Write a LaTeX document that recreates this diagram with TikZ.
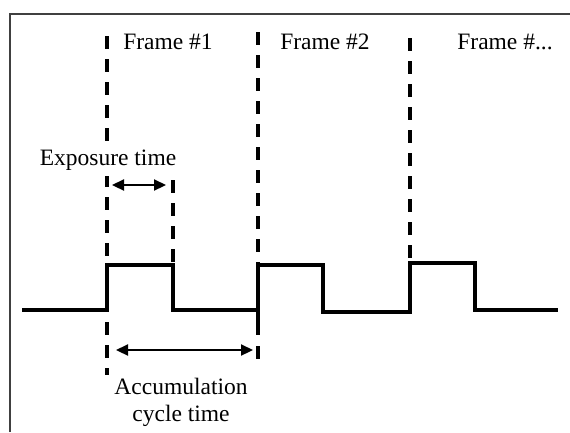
\documentclass[tikz,border=0pt]{standalone}
\usepackage{fontspec}
\setmainfont{Liberation Serif}
\usetikzlibrary{arrows.meta}
\begin{document}
\begin{tikzpicture}[x=1pt,y=-1pt,
  sig/.style={line width=3.2pt,line join=miter},
  guide/.style={line width=3.2pt,dash pattern=on 13pt off 10pt},
  dim/.style={line width=2.2pt,{Triangle[length=12pt,width=11pt]}-{Triangle[length=12pt,width=11pt]}},
  lbl/.style={font=\fontsize{23.5}{26}\selectfont,inner sep=0pt}]
\useasboundingbox (0,0) rectangle (570,432);
\draw[line width=1.6pt,draw=black!75] (10,432) -- (10,14) -- (570,14);
% signal
\coordinate (s0) at (22,310);
\coordinate (r1) at (107,310);
\coordinate (t1) at (107,265);
\coordinate (t1e) at (173,265);
\coordinate (f1) at (173,310);
\coordinate (r2) at (258,310);
\coordinate (t2) at (258,265);
\coordinate (t2e) at (323,265);
\coordinate (f2) at (323,312);
\coordinate (r3) at (410,312);
\coordinate (t3) at (410,263);
\coordinate (t3e) at (475,263);
\coordinate (f3) at (475,310);
\coordinate (s1) at (558,310);
\draw[sig] (s0) -- (r1) -- (t1) -- (t1e) -- (f1) -- (r2) -- (t2) -- (t2e) -- (f2) -- (r3) -- (t3) -- (t3e) -- (f3) -- (s1);
% guide lines
\coordinate (g1top) at (107,36);
\coordinate (g1bot) at (107,375);
\coordinate (g2top) at (258,32);
\coordinate (g2bot) at (258,368);
\coordinate (g3top) at (410,38);
\coordinate (gEtop) at (173,180);
\draw[guide] (g1top) -- (t1);
\draw[guide] (r1) ++(0,12) -- (g1bot);
\draw[guide] (g2top) -- (t2);
\draw[line width=3.2pt] (r2) -- (258,335);
\draw[guide] (258,346) -- (g2bot);
\draw[guide] (g3top) -- (t3);
\draw[guide] (gEtop) -- (t1e);
% labels
\node[lbl] (fr1) at (168,42) {Frame \#1};
\node[lbl] (fr2) at (325,42) {Frame \#2};
\node[lbl] (fr3) at (505,42) {Frame \#...};
\node[lbl,fill=white,inner ysep=6pt,inner xsep=1pt] (exp) at (108,160) {Exposure time};
\node[lbl,align=center] (acc) at (181,402) {Accumulation\\[1pt]cycle time};
% dimension arrows
\coordinate (ea) at (112,185);
\coordinate (eb) at (166,185);
\draw[dim] (ea) -- (eb);
\coordinate (aa) at (116,350);
\coordinate (ab) at (253,350);
\draw[dim] (aa) -- (ab);
\end{tikzpicture}
\end{document}
